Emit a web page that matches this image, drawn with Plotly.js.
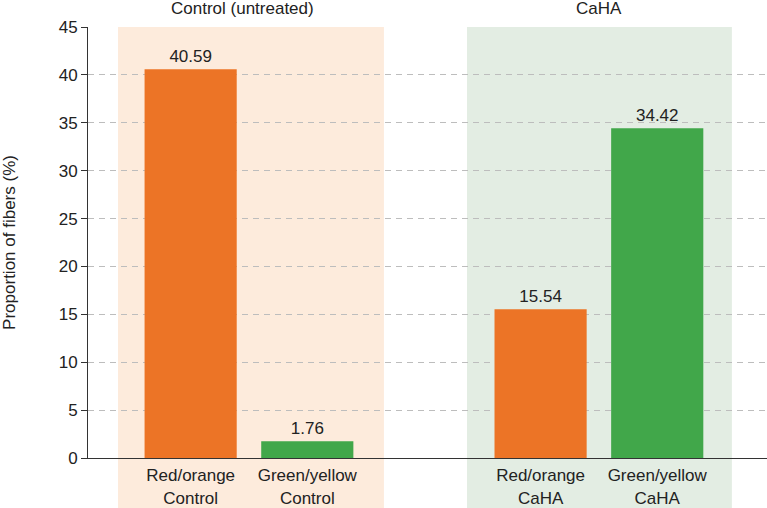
<!DOCTYPE html>
<html>
<head>
<meta charset="utf-8">
<script src="https://cdn.plot.ly/plotly-3.0.1.min.js"></script>
<style>html,body{margin:0;padding:0;background:#fff;}#chart{width:767px;height:508px;}</style>
</head>
<body>
<div id="chart"></div>
<script>
// Data
const categories = ["Red/orange<br>Control", "Green/yellow<br>Control", " ", "Red/orange<br>CaHA", "Green/yellow<br>CaHA"];
const values = [40.59, 1.76, null, 15.54, 34.42];
const valueLabels = ["40.59", "1.76", "", "15.54", "34.42"];
const groupTitles = ["Control (untreated)", "CaHA"];
const yTicks = [0, 5, 10, 15, 20, 25, 30, 35, 40, 45];

const orange = "#EC7426";
const green = "#41A74A";
const barColors = [orange, green, orange, orange, green];

const FS = 17;

const trace = {
  type: "bar",
  x: categories,
  y: values,
  text: valueLabels,
  textposition: "outside",
  textfont: {family: "Arial, Liberation Sans, sans-serif", size: FS, color: "#222"},
  cliponaxis: false,
  marker: {color: barColors, line: {width: 0}},
  hoverinfo: "none"
};

const layout = {
  width: 767,
  height: 508,
  margin: {l: 88, r: 0, t: 27, b: 50},
  paper_bgcolor: "#fff",
  plot_bgcolor: "rgba(0,0,0,0)",
  font: {family: "Arial, Liberation Sans, sans-serif", size: FS, color: "#222"},
  showlegend: false,
  bargap: 0.21,
  xaxis: {
    type: "category",
    range: [-0.88, 4.941],
    showline: true,
    linecolor: "#333",
    linewidth: 1,
    ticks: "",
    showgrid: false,
    zeroline: false,
    ticklabelstandoff: 2,
    tickfont: {size: FS, color: "#222"},
    fixedrange: true
  },
  yaxis: {
    range: [0, 45],
    tickvals: yTicks,
    ticktext: yTicks.map(String),
    showline: true,
    linecolor: "#333",
    linewidth: 1,
    ticks: "outside",
    ticklen: 6,
    tickcolor: "#333",
    showgrid: true,
    gridcolor: "#bdbdbd",
    griddash: "6px,5px",
    gridwidth: 1,
    zeroline: false,
    tickfont: {size: FS, color: "#222"},
    title: {text: "Proportion of fibers (%)", font: {size: FS, color: "#222"}, standoff: 38},
    fixedrange: true
  },
  shapes: [
    {type: "rect", layer: "below", xref: "x", yref: "paper", x0: -0.623, x1: 1.657, y0: -0.116, y1: 1,
     fillcolor: "#FDEBDC", line: {width: 0}},
    {type: "rect", layer: "below", xref: "x", yref: "paper", x0: 2.369, x1: 4.64, y0: -0.116, y1: 1,
     fillcolor: "#E3EDE3", line: {width: 0}}
  ],
  annotations: [
    {text: groupTitles[0], xref: "x", yref: "paper", x: 0.448, y: 1.044, yanchor: "middle", showarrow: false,
     font: {size: FS, color: "#222"}},
    {text: groupTitles[1], xref: "x", yref: "paper", x: 3.5, y: 1.044, yanchor: "middle", showarrow: false,
     font: {size: FS, color: "#222"}}
  ]
};

Plotly.newPlot("chart", [trace], layout, {displayModeBar: false, staticPlot: true});
</script>
</body>
</html>
